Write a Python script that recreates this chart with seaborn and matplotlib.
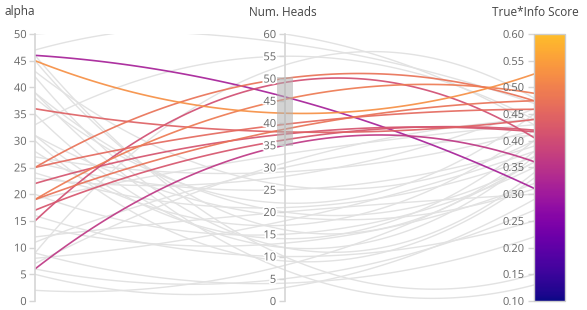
import numpy as np
import pandas as pd
import matplotlib
matplotlib.use('Agg')
import matplotlib.pyplot as plt
import matplotlib.patheffects as pe
from matplotlib.colors import ListedColormap
from matplotlib.patches import Rectangle
from matplotlib.transforms import blended_transform_factory
import seaborn as sns

# dimensions of the parallel coordinates
dim_labels = ['alpha', 'Num. Heads', 'True*Info Score']
dim_ranges = [(0, 50), (0, 60), (0.1, 0.6)]
dim_ticks = [np.arange(0, 51, 5), np.arange(0, 61, 5), np.arange(0.1, 0.601, 0.05)]

# one entry per run
alpha = [46, 45, 36, 25, 25, 22, 19, 19, 17, 15, 6,
         50, 47, 46, 45, 42, 39, 39, 38, 33, 31, 31, 30, 27, 26, 24, 23,
         20, 19, 14, 11, 9, 9, 8, 7, 6, 5, 2, 12, 28, 35, 43, 16]
heads = [45.9, 42.2, 38.0, 50.0, 39.7, 37.5, 45.3, 38.6, 36.2, 49.1, 35.0,
         58, 60, 10, 16, 12, 7, 20, 22, 55, 19, 14, 9, 29, 25, 21, 28,
         15, 33, 13, 30, 53, 4, 18, 31, 5, 3, 8, 20, 17, 12, 26, 10]
score = [0.311, 0.525, 0.440, 0.475, 0.459, 0.417, 0.489, 0.475, 0.420, 0.406, 0.361,
         0.47, 0.43, 0.15, 0.38, 0.34, 0.13, 0.36, 0.45, 0.44, 0.31, 0.40, 0.33, 0.42, 0.39, 0.37, 0.46,
         0.35, 0.43, 0.32, 0.41, 0.48, 0.22, 0.38, 0.44, 0.27, 0.29, 0.36, 0.30, 0.42, 0.37, 0.40, 0.25]

# brushed range on Num. Heads
brush = (34.9, 50.3)

W, H = 587, 310
fig = plt.figure(figsize=(W / 100, H / 100), dpi=100)
sns.set_theme(style='white')
plt.rcParams['font.family'] = ['Open Sans', 'DejaVu Sans']

# plasma, stopping short of the bright yellow end
cmap = ListedColormap(plt.cm.plasma(np.linspace(0, 0.86, 256)))

rect = [35 / W, 9 / H, 499 / W, 267 / H]
ax = fig.add_axes(rect)

# build smooth curves through the three normalised values
df = pd.DataFrame({'alpha': alpha, 'heads': heads, 'score': score})
cols = ['alpha', 'heads', 'score']
t = np.linspace(0, 2, 80)
rows = []
for i, r in df.iterrows():
    pts = [(r[c] - lo) / (hi - lo) for c, (lo, hi) in zip(cols, dim_ranges)]
    coef = np.polyfit([0, 1, 2], pts, 2)
    sel = brush[0] <= r['heads'] <= brush[1]
    for tt, yy in zip(t, np.polyval(coef, t)):
        rows.append({'run': i, 'x': tt, 'y': yy, 'score': r['score'], 'sel': sel})
curves = pd.DataFrame(rows)

sns.lineplot(data=curves[~curves.sel], x='x', y='y', units='run', estimator=None,
             sort=False, color='#e2e2e2', lw=1.0, ax=ax, legend=False)
sns.lineplot(data=curves[curves.sel], x='x', y='y', units='run', hue='score',
             estimator=None, sort=False, palette=cmap, hue_norm=(0.1, 0.6),
             lw=1.2, alpha=0.92, ax=ax, legend=False)
ax.set_xlim(0, 2)
ax.set_ylim(0, 1)
ax.axis('off')

halo = [pe.withStroke(linewidth=2.5, foreground='white')]

# the two left axes
for k in range(2):
    a = fig.add_axes(rect)
    a.patch.set_visible(False)
    for s in ['top', 'right', 'bottom']:
        a.spines[s].set_visible(False)
    a.spines['left'].set_position(('axes', k / 2))
    a.spines['left'].set_color('#d6d6d6')
    a.spines['left'].set_linewidth(1.2)
    a.set_ylim(*dim_ranges[k])
    a.set_yticks(dim_ticks[k])
    a.set_xticks([])
    a.tick_params(axis='y', length=4, width=1, color='#d6d6d6', labelsize=8,
                  labelcolor='#666666', pad=2, left=True)
    for lab in a.get_yticklabels():
        lab.set_path_effects(halo)
    if k == 1:
        tr = blended_transform_factory(a.transAxes, a.transData)
        a.add_patch(Rectangle((0.5 - 8 / 499, brush[0]), 16 / 499, brush[1] - brush[0],
                              transform=tr, facecolor='#b0b0b0', alpha=0.55,
                              edgecolor='none', zorder=5))

# colour bar axis on the right
cax = fig.add_axes([534 / W, 9 / H, 31 / W, 267 / H])
sm = plt.cm.ScalarMappable(norm=plt.Normalize(0.1, 0.6), cmap=cmap)
cb = fig.colorbar(sm, cax=cax, ticks=dim_ticks[2])
cb.outline.set_edgecolor('#cccccc')
cb.outline.set_linewidth(1)
cax.yaxis.set_ticks_position('left')
cax.yaxis.set_label_position('left')
cax.tick_params(axis='y', length=4, width=1, color='#d6d6d6', labelsize=8,
                labelcolor='#666666', pad=3)
cax.set_yticklabels([f'{v:.2f}' for v in dim_ticks[2]])

# axis titles
for xpx, txt in zip([20, 283, 535], dim_labels):
    fig.text(xpx / W, 1 - 12 / H, txt, ha='center', va='center',
             fontsize=8.5, color='#444444')

fig.savefig('out.png', dpi=100)
